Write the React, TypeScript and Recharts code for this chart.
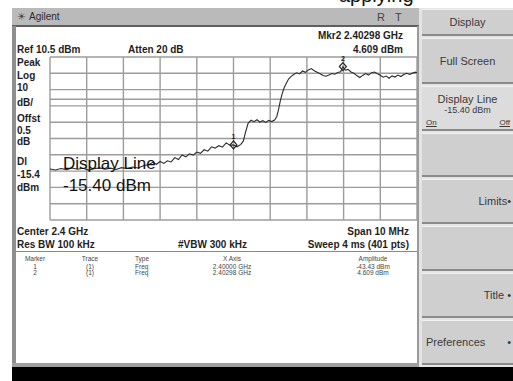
import React from "react";
import { CartesianGrid, Line, LineChart, ReferenceDot, ReferenceLine, XAxis, YAxis } from "recharts";

// sweep, MHz / dBm
const FREQ = [
  2395.0, 2395.15, 2395.3, 2395.45, 2395.6, 2395.75, 2395.9, 2396.05, 2396.2, 2396.35, 2396.5, 2396.65,
  2396.8, 2396.95, 2397.1, 2397.25, 2397.4, 2397.55, 2397.7, 2397.8, 2397.9, 2398.0, 2398.1, 2398.2,
  2398.3, 2398.4, 2398.5, 2398.6, 2398.7, 2398.8, 2398.9, 2399.0, 2399.1, 2399.2, 2399.3, 2399.4, 2399.5,
  2399.6, 2399.7, 2399.8, 2399.9, 2400.0, 2400.1, 2400.2, 2400.27, 2400.33, 2400.4, 2400.48, 2400.56,
  2400.64, 2400.72, 2400.8, 2400.88, 2400.96, 2401.04, 2401.12, 2401.18, 2401.23, 2401.28, 2401.33,
  2401.38, 2401.44, 2401.5, 2401.57, 2401.64, 2401.72, 2401.8, 2401.88, 2401.96, 2402.04, 2402.12,
  2402.2, 2402.28, 2402.36, 2402.44, 2402.52, 2402.6, 2402.68, 2402.76, 2402.84, 2402.92, 2402.98,
  2403.05, 2403.12, 2403.2, 2403.28, 2403.36, 2403.44, 2403.52, 2403.6, 2403.68, 2403.76, 2403.84,
  2403.92, 2404.0, 2404.08, 2404.16, 2404.24, 2404.32, 2404.4, 2404.48, 2404.56, 2404.64, 2404.72,
  2404.8, 2404.88, 2404.96, 2405.0,
];
const AMP = [
  -58.2, -58.8, -57.9, -58.6, -57.6, -58.4, -57.8, -58.9, -58.1, -57.5, -58.3, -57.7,
  -58.5, -57.4, -57.9, -57.0, -57.6, -56.2, -55.4, -54.1, -55.3, -53.6, -54.8, -53.2,
  -53.9, -51.2, -52.4, -49.6, -50.8, -48.9, -49.7, -47.8, -48.6, -46.4, -47.3, -44.6, -45.4,
  -43.9, -44.8, -42.2, -43.6, -43.43, -44.6, -43.1, -41.0, -35.5, -30.0, -28.3, -29.2,
  -28.0, -29.4, -28.6, -29.6, -28.4, -29.1, -28.2, -26.0, -21.5, -16.0, -11.8,
  -8.4, -5.6, -3.0, -1.4, -0.2, 0.8, 0.1, 1.9, 1.1, 2.6, 3.4,
  2.1, 1.2, 0.2, -0.9, -1.3, -0.5, 0.4, -0.1, 1.0, 1.4, 4.609,
  2.4, 2.9, 1.3, 0.5, -0.9, -2.1, -0.8, 0.3, -0.6, 0.9, 1.3,
  0.2, -0.7, -1.9, -1.2, -2.5, -1.1, -1.8, -0.6, -1.5, -0.3, 0.5,
  -0.2, 0.6, 1.2, 0.9,
];

const FREQ_TICKS = [2395, 2396, 2397, 2398, 2399, 2400, 2401, 2402, 2403, 2404, 2405];
const AMP_TICKS = [-89.5, -79.5, -69.5, -59.5, -49.5, -39.5, -29.5, -19.5, -9.5, 0.5, 10.5];
const DISPLAY_LINE = -15.4;

const MARKER_IDS = ["1", "2"];
const MARKER_FREQ = [2400.0, 2402.98];
const MARKER_AMP = [-43.43, 4.609];

const SIDE_LABELS = ["Peak", "Log", "10", "dB/", "Offst", "0.5", "dB", "Dl", "-15.4", "dBm"];
const SIDE_Y = [63, 76, 88, 103, 119, 131, 142, 162, 175, 188];

const SOFTKEYS = ["Display", "Full Screen", "Display Line", "", "Limits•", "", "Title •", "Preferences •"];

const TABLE_HEAD = ["Marker", "Trace", "Type", "X Axis", "Amplitude"];
const TABLE_ROWS = [
  ["1", "(1)", "Freq", "2.40000 GHz", "-43.43 dBm"],
  ["2", "(1)", "Freq", "2.40298 GHz", "4.609 dBm"],
];

const data = FREQ.map((f, i) => ({ f, a: AMP[i] }));

const SANS = "'Liberation Sans', Arial, sans-serif";

function T({
  x,
  y,
  children,
  size = 10,
  bold = true,
  align = "left",
  color = "#1e1e1e",
}: {
  x: number;
  y: number;
  children: React.ReactNode;
  size?: number;
  bold?: boolean;
  align?: "left" | "right" | "center";
  color?: string;
}) {
  const shift = align === "left" ? "0" : align === "right" ? "-100%" : "-50%";
  return (
    <div
      style={{
        position: "absolute",
        left: x,
        top: y,
        transform: `translate(${shift}, -50%)`,
        fontFamily: SANS,
        fontSize: size,
        fontWeight: bold ? 700 : 400,
        color,
        whiteSpace: "nowrap",
        lineHeight: 1,
      }}
    >
      {children}
    </div>
  );
}

function MarkerShape(props: any) {
  const { cx, cy, id } = props;
  return (
    <g>
      <polygon
        points={`${cx},${cy - 4} ${cx + 3.5},${cy} ${cx},${cy + 4} ${cx - 3.5},${cy}`}
        fill="none"
        stroke="#222"
        strokeWidth={1.2}
      />
      <text x={cx} y={cy - 6} textAnchor="middle" fontSize={7} fontFamily={SANS} fontWeight={700} fill="#222">
        {id}
      </text>
    </g>
  );
}

function Softkey({ label, top, height, active }: { label: string; top: number; height: number; active?: boolean }) {
  const isDispLine = label === "Display Line";
  const isPref = label.startsWith("Pref");
  return (
    <div
      style={{
        position: "absolute",
        left: 422,
        top,
        width: 91,
        height,
        background: active ? "#dcdcdc" : "#cfcfcf",
        borderTop: "1px solid #f2f2f2",
        borderBottom: "2px solid #8a8a8a",
        boxSizing: "border-box",
        fontFamily: SANS,
        color: "#3a3a3a",
      }}
    >
      {isDispLine ? (
        <>
          <div style={{ position: "absolute", left: 0, right: 0, top: 6, textAlign: "center", fontSize: 11 }}>Display Line</div>
          <div style={{ position: "absolute", left: 0, right: 0, top: 18, textAlign: "center", fontSize: 9 }}>-15.40 dBm</div>
          <div style={{ position: "absolute", left: 4, top: 31, fontSize: 8, textDecoration: "underline" }}>On</div>
          <div style={{ position: "absolute", right: 3, top: 31, fontSize: 8, textDecoration: "underline" }}>Off</div>
        </>
      ) : isPref ? (
        <div style={{ position: "absolute", left: 4, right: 2, top: "50%", transform: "translateY(-50%)", fontSize: 11, display: "flex", justifyContent: "space-between" }}>
          <span>Preferences</span>
          <span>•</span>
        </div>
      ) : (
        <div
          style={{
            position: "absolute",
            top: "50%",
            transform: "translateY(-50%)",
            fontSize: 11,
            ...(label.includes("•") ? { right: 2 } : { left: 0, right: 0, textAlign: "center" as const }),
          }}
        >
          {label}
        </div>
      )}
    </div>
  );
}

export default function App() {
  const keyTops = [9, 38, 86, 133, 179, 226, 273, 320];
  const keyHeights = [27, 46, 45, 44, 45, 45, 45, 45];
  const colCenters = [35, 90, 142, 232, 373];

  return (
    <div style={{ position: "absolute", left: 0, top: 0, width: 513, height: 381, background: "#fff", overflow: "hidden" }}>
      {/* clipped caption above the screenshot */}
      <div style={{ position: "absolute", left: 339, top: -16, fontFamily: SANS, fontSize: 20, color: "#111", whiteSpace: "nowrap" }}>
        applying
      </div>

      {/* soft key column */}
      <div style={{ position: "absolute", left: 419, top: 8, width: 94, height: 360, background: "#e4e4e4" }} />
      {SOFTKEYS.map((k, i) => (
        <Softkey key={i} label={k} top={keyTops[i]} height={keyHeights[i]} active={k === "Display Line"} />
      ))}

      {/* title bar */}
      <div style={{ position: "absolute", left: 12, top: 8, width: 407, height: 17, background: "#bababa", borderBottom: "2px solid #5e5e5e" }} />
      <T x={17} y={17} size={10} bold={false} color="#444">☀</T>
      <T x={29} y={17} size={10} bold={false} color="#2a2a2a">Agilent</T>
      <T x={377} y={17} size={11} bold={false} color="#444">R</T>
      <T x={395} y={17} size={11} bold={false} color="#444">T</T>

      {/* screen frame */}
      <div style={{ position: "absolute", left: 12, top: 26, width: 4, height: 342, background: "#8e8e8e" }} />
      <div style={{ position: "absolute", left: 417, top: 26, width: 2, height: 342, background: "#9a9a9a" }} />
      <div style={{ position: "absolute", left: 12, top: 363, width: 407, height: 4, background: "#a0a0a0" }} />
      <div style={{ position: "absolute", left: 12, top: 367, width: 501, height: 14, background: "#000" }} />

      {/* annotations */}
      <T x={403} y={36} align="right">Mkr2  2.40298 GHz</T>
      <T x={403} y={50} align="right">4.609 dBm</T>
      <T x={17} y={50}>Ref 10.5 dBm</T>
      <T x={128} y={50}>Atten 20 dB</T>
      {SIDE_LABELS.map((s, i) => (
        <T key={s + i} x={17} y={SIDE_Y[i]}>
          {s}
        </T>
      ))}

      <div style={{ position: "absolute", left: 40, top: 47 }}>
        <LineChart width={387} height={183} data={data} margin={{ top: 10, right: 10, bottom: 10, left: 10 }}>
          <CartesianGrid stroke="#9c9c9c" strokeWidth={1.4} />
          <XAxis type="number" dataKey="f" domain={[2395, 2405]} ticks={FREQ_TICKS} interval={0} hide />
          <YAxis type="number" domain={[-89.5, 10.5]} ticks={AMP_TICKS} interval={0} hide />
          <ReferenceLine y={DISPLAY_LINE} stroke="#9c9c9c" strokeWidth={1.4} />
          <Line type="linear" dataKey="a" stroke="#2c2c2c" strokeWidth={1.1} dot={false} isAnimationActive={false} />
          {MARKER_IDS.map((id, i) => (
            <ReferenceDot
              key={id}
              x={MARKER_FREQ[i]}
              y={MARKER_AMP[i]}
              r={4}
              shape={(p: any) => <MarkerShape {...p} id={id} />}
            />
          ))}
        </LineChart>
      </div>

      <T x={63} y={163} size={17} bold={false} color="#111">Display Line</T>
      <T x={63} y={185} size={17} bold={false} color="#111">-15.40 dBm</T>

      <T x={17} y={232}>Center 2.4 GHz</T>
      <T x={409} y={232} align="right">Span 10 MHz</T>
      <T x={17} y={245}>Res BW 100 kHz</T>
      <T x={178} y={245}>#VBW 300 kHz</T>
      <T x={409} y={245} align="right">Sweep 4 ms (401 pts)</T>

      {/* marker table */}
      <div style={{ position: "absolute", left: 16, top: 251, width: 401, height: 112, borderTop: "1px solid #8a8a8a", boxSizing: "border-box" }} />
      {TABLE_HEAD.map((h, i) => (
        <T key={h} x={i === 2 ? 135 : colCenters[i]} y={259} size={6.5} bold={false} align={i === 2 ? "left" : "center"} color="#444">
          {h}
        </T>
      ))}
      {TABLE_ROWS.map((row, r) =>
        row.map((c, i) => (
          <T key={r + "-" + i} x={i === 2 ? 135 : colCenters[i]} y={266.5 + r * 6.5} size={6.5} bold={false} align={i === 2 ? "left" : "center"} color="#444">
            {c}
          </T>
        ))
      )}
    </div>
  );
}
